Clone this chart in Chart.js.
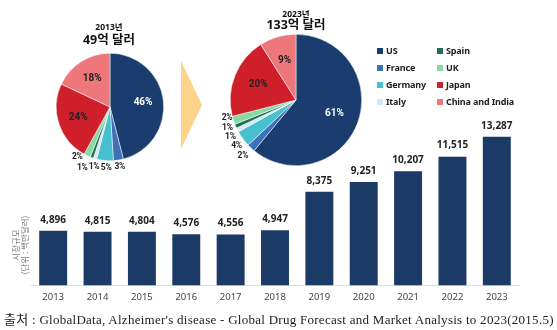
<!DOCTYPE html>
<html>
<head>
<meta charset="utf-8">
<script src="https://cdn.jsdelivr.net/npm/chart.js@4"></script>
<style>
body{margin:0;width:557px;height:330px;position:relative;background:#fff;overflow:hidden;font-family:"Noto Sans","Noto Sans CJK KR",sans-serif}
canvas{position:absolute}
.t{position:absolute;text-align:center;white-space:nowrap;color:#111}
.yr{font-size:8.5px;font-weight:bold}
.amt{font-size:12.5px;font-weight:bold}
.lg{position:absolute;font-size:9px;font-weight:bold;color:#222;line-height:12px;white-space:nowrap;letter-spacing:-0.15px}
.lg i{display:inline-block;width:6px;height:6px;margin-right:3px;vertical-align:0px}
#arrow{position:absolute;left:181px;top:61px;width:0;height:0;border-left:21px solid #fdd28a;border-top:44px solid transparent;border-bottom:44px solid transparent}
#ytitle{position:absolute;left:-15px;top:236px;width:70px;text-align:center;font-size:8.5px;line-height:9px;color:#777;transform:rotate(-90deg);white-space:nowrap;font-family:"Noto Sans CJK KR",sans-serif}
#src{position:absolute;left:4px;top:309px;font-family:"Liberation Serif","Noto Sans CJK KR",serif;font-size:13px;letter-spacing:0.27px;color:#222;white-space:nowrap}
</style>
</head>
<body>
<canvas id="bars" width="557" height="330" style="left:0;top:0"></canvas>
<canvas id="pie13" width="140" height="140" style="left:40px;top:37px"></canvas>
<canvas id="pie23" width="180" height="180" style="left:206px;top:10px"></canvas>
<div id="arrow"></div>
<div class="t yr" style="left:79px;top:20px;width:60px">2013년</div>
<div class="t amt" style="left:69px;top:29px;width:80px">49억 달러</div>
<div class="t yr" style="left:266px;top:7px;width:60px">2023년</div>
<div class="t amt" style="left:256px;top:14px;width:80px">133억 달러</div>
<div id="legend"></div>
<div id="ytitle">시장규모<br>(단위 : 백만달러)</div>
<div id="src">출처 : GlobalData, Alzheimer's disease - Global Drug Forecast and Market Analysis to 2023(2015.5)</div>
<script>
const years = ['2013','2014','2015','2016','2017','2018','2019','2020','2021','2022','2023'];
const marketSize = [4896,4815,4804,4576,4556,4947,8375,9251,10207,11515,13287];

const regions = ['US','France','Germany','Italy','Spain','UK','Japan','China and India'];
const share2013 = [46,3,5,1,1,2,24,18];
const share2023 = [61,2,4,1,1,2,20,9];
const regionColors = ['#1b3c6e','#3d72b8','#47bfcd','#d4e9f1','#1e6e5a','#86d9a1','#cf1f2b','#ee777c'];

// legend order as in picture (2 columns)
const legendCols = [['US','France','Germany','Italy'],['Spain','UK','Japan','China and India']];

// small nudges so the tiny-slice labels don't pile up (px)
const nudge2013 = [[0,0],[0,-2],[2,-2],[1.5,0],[-6.5,2],[-6,-7],[0,0],[0,0]];
const nudge2023 = [[0,0],[-2,1],[1,2],[1,3],[0,-2],[2,-5],[0,0],[0,0]];

const lg = document.getElementById('legend');
legendCols.forEach((col,c)=>{
  col.forEach((name,r)=>{
    const d = document.createElement('div');
    d.className = 'lg';
    d.style.left = (377 + c*60) + 'px';
    d.style.top = (45 + r*17) + 'px';
    d.innerHTML = '<i style="background:'+regionColors[regions.indexOf(name)]+'"></i>' + name;
    lg.appendChild(d);
  });
});

const barLabels = {
  id:'barLabels',
  afterDatasetsDraw(chart){
    const ctx = chart.ctx;
    const meta = chart.getDatasetMeta(0);
    ctx.save();
    ctx.font = 'bold 10px "Noto Sans"';
    ctx.fillStyle = '#222';
    ctx.textAlign = 'center';
    ctx.textBaseline = 'middle';
    meta.data.forEach((bar,i)=>{
      ctx.fillText(marketSize[i].toLocaleString('en-US'), bar.x, bar.y - 11);
    });
    ctx.restore();
  }
};

new Chart(document.getElementById('bars'), {
  type:'bar',
  data:{ labels: years, datasets:[{ data: marketSize, backgroundColor:'#1b3a66', categoryPercentage:1, barPercentage:0.63 }] },
  options:{
    responsive:false, animation:false,
    layout:{ padding:{ left:31, right:38, top:0, bottom:21 } },
    plugins:{ legend:{display:false}, tooltip:{enabled:false} },
    scales:{
      x:{ grid:{display:false, drawTicks:false}, border:{color:'#dcdcdc'},
          ticks:{ padding:6, color:'#444', font:{ size:9.5, family:'"Noto Sans"' } } },
      y:{ display:false, min:0, max:25500 }
    }
  },
  plugins:[barLabels]
});

const pieLabels = {
  id:'pieLabels',
  afterDatasetsDraw(chart, args, opts){
    const ctx = chart.ctx;
    const meta = chart.getDatasetMeta(0);
    const vals = chart.data.datasets[0].data;
    ctx.save();
    ctx.textAlign = 'center';
    ctx.textBaseline = 'middle';
    meta.data.forEach((arc,i)=>{
      const v = vals[i];
      const mid = (arc.startAngle + arc.endAngle)/2;
      const inside = v >= 9;
      const r = inside ? arc.outerRadius*0.62 : arc.outerRadius + 9;
      const n = opts.nudge[i];
      ctx.fillStyle = i === 0 ? '#fff' : '#222';
      ctx.font = inside ? 'bold 10px Roboto' : 'bold 8.5px Roboto';
      ctx.letterSpacing = inside ? '0px' : '-0.3px';
      ctx.fillText(v + '%', arc.x + Math.cos(mid)*r + n[0], arc.y + Math.sin(mid)*r + n[1]);
    });
    ctx.restore();
  }
};

function makePie(id, values, pad, nudge){
  new Chart(document.getElementById(id), {
    type:'pie',
    data:{ labels: regions, datasets:[{ data: values, backgroundColor: regionColors, borderColor:'#fff', borderWidth:0.5 }] },
    options:{
      responsive:false, animation:false,
      layout:{ padding: pad },
      plugins:{ legend:{display:false}, tooltip:{enabled:false}, pieLabels:{ nudge: nudge } }
    },
    plugins:[pieLabels]
  });
}
makePie('pie13', share2013, 16, nudge2013);
makePie('pie23', share2023, 24, nudge2023);
</script>
</body>
</html>
